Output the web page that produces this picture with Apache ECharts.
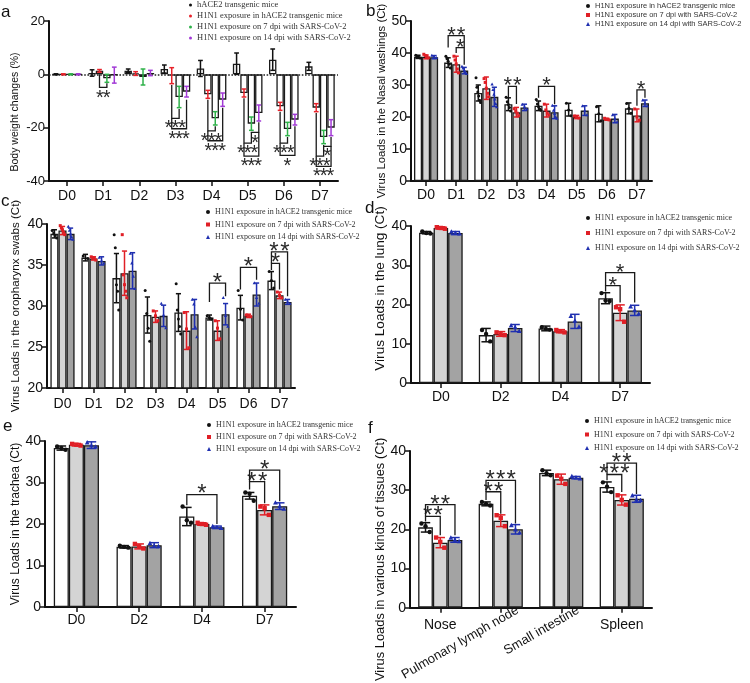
<!DOCTYPE html>
<html><head><meta charset="utf-8">
<script src="https://cdn.jsdelivr.net/npm/echarts@6/dist/echarts.min.js"></script>
<style>html,body{margin:0;padding:0;background:#fff}#c{width:750px;height:683px}</style>
</head><body><div id="c"></div>
<script>
// ---------- categories ----------
const daysAll = ['D0','D1','D2','D3','D4','D5','D6','D7'];
const daysSub = ['D0','D2','D4','D7'];
const tissues = ['Nose','Pulmonary lymph node','Small intestine','Spleen'];

// ---------- legend names ----------
const namesA = ['hACE2 transgenic mice','H1N1 exposure in hACE2 transgenic mice','H1N1 exposure on 7 dpi with SARS-CoV-2','H1N1 exposure on 14 dpi with SARS-CoV-2'];
const namesV = ['H1N1 exposure in hACE2 transgenic mice','H1N1 exposure on 7 dpi with SARS-CoV-2','H1N1 exposure on 14 dpi with SARS-CoV-2'];

// ---------- panel a: body weight change (%) ----------
const aHace2   = [0, 0.5, 1.3, 2.0, 2.2, 4.0, 5.5, 3.0];
const aHace2Sd = [0.2, 1.2, 0.7, 1.5, 3.0, 4.0, 4.0, 1.5];
const aH1n1    = [0, 1.3, 0.3, -0.5, -7.5, -7.0, -12.0, -12.5];
const aH1n1Sd  = [0.2, 0.5, 0.7, 3.0, 1.5, 1.5, 1.5, 1.5];
const a7dpi    = [0, -1.5, -1.0, -8.5, -16.5, -18.5, -20.5, -23.5];
const a7dpiSd  = [0.2, 1.5, 3.0, 4.0, 2.5, 2.5, 2.5, 2.5];
const a14dpi   = [0, -0.3, 0.5, -6.5, -9.5, -14.5, -17.0, -20.0];
const a14dpiSd = [0.2, 3.0, 1.0, 2.0, 2.5, 3.0, 2.0, 3.0];

// ---------- panel b: nasal washings (Ct) ----------
const bHace2   = [38.8, 37.0, 27.5, 24.0, 23.5, 22.3, 21.0, 22.7];
const bHace2Sd = [0.5, 1.5, 2.5, 2.0, 1.5, 2.0, 2.5, 1.7];
const b7dpi    = [38.8, 36.5, 29.0, 21.5, 22.0, 20.0, 19.3, 20.5];
const b7dpiSd  = [0.6, 2.5, 3.5, 1.5, 2.0, 0.5, 0.3, 2.0];
const b14dpi   = [38.7, 34.5, 26.3, 23.0, 21.5, 22.0, 19.5, 24.3];
const b14dpiSd = [0.5, 1.0, 3.0, 1.0, 2.0, 1.5, 1.3, 1.0];
const bHace2Pts = [[39.3,39.0,38.7,38.4],[39.0,38.2,37.4,36.5,35.3],[32.3,29.3,27.8,26.6,25.2,24.5],[26.2,24.8,23.9,23.0,21.9],
                   [25.5,24.1,23.2,22.6,22.1],[24.3,22.2,20.4],[23.2,21.0,18.8],[24.2,22.7,21.2]];
const b7dpiPts  = [[39.6,39.2,38.9,38.5],[39.0,37.8,36.6,35.0,33.8],[32.0,30.8,29.0,27.4,26.3],[22.6,21.8,21.2,20.4],
                   [24.0,22.2,21.2,20.6],[20.3,20.0,19.7],[19.6,19.3,19.1],[22.5,20.0,19.0]];
const b14dpiPts = [[39.2,38.9,38.5],[35.8,35.2,34.6,34.0,33.5],[30.2,28.5,27.0,25.5,24.1,23.1],[23.9,23.2,22.5],
                   [23.6,22.0,21.0,20.0,19.5],[23.4,22.0,20.6],[20.6,19.5,18.4],[25.2,24.3,23.4]];

// ---------- panel c: oropharynx swabs (Ct) ----------
const cHace2   = [38.8, 35.9, 33.4, 28.9, 29.2, 28.6, 29.8, 33.1];
const cHace2Sd = [0.5, 0.4, 3.0, 2.2, 2.3, 0.3, 1.5, 1.1];
const c7dpi    = [39.2, 35.8, 34.0, 28.7, 27.0, 27.0, 28.8, 31.3];
const c7dpiSd  = [0.5, 0.2, 2.7, 0.7, 2.3, 1.2, 0.2, 0.4];
const c14dpi   = [38.8, 35.5, 34.3, 28.8, 29.0, 29.0, 31.4, 30.5];
const c14dpiSd = [0.7, 0.5, 2.2, 1.3, 1.8, 1.3, 1.4, 0.3];
const cHace2Pts = [[39.2,38.9,38.6,38.3],[36.1,35.8],[38.7,37.1,32.6,31.8,29.5],[31.9,29.1,27.3,25.7],
                   [32.7,29.5,28.4,27.5,26.6],[28.8,28.6,28.4],[31.9,29.6,28.3],[34.2,33.1,32.2]];
const c7dpiPts  = [[39.8,39.5,39.3,39.0,38.7],[36.0,35.9,35.8,35.6],[38.7,33.8,32.6,31.8,31.0],[29.4,28.8,28.2],
                   [29.2,27.2,24.9],[28.2,27.3,26.0],[28.9,28.8,28.7],[31.7,31.3,31.0]];
const c14dpiPts = [[39.7,39.2,38.8,38.4,38.1],[35.9,35.5,35.2],[36.4,35.2,33.6,32.1],[30.3,28.9,27.3],
                   [30.8,30.2,27.4,26.2],[31.0,28.8,27.5],[32.8,31.0,30.3],[30.8,30.5,30.3]];

// ---------- panel d: lung (Ct) ----------
const dHace2   = [38.3, 12.2, 13.9, 21.6];
const dHace2Sd = [0.3, 1.7, 0.6, 1.4];
const d7dpi    = [39.5, 12.5, 13.2, 17.9];
const d7dpiSd  = [0.3, 0.6, 0.4, 2.0];
const d14dpi   = [38.2, 14.0, 15.7, 18.5];
const d14dpiSd = [0.4, 0.9, 1.8, 1.3];
const dHace2Pts = [[38.6,38.2,38.1],[13.5,12.5,10.6],[14.2,13.8,13.6],[22.9,21.0,20.9]];
const d7dpiPts  = [[39.7,39.5,39.3],[12.9,12.4,12.2],[13.5,13.2,12.9],[19.3,18.8,15.6]];
const d14dpiPts = [[38.5,38.2,38.0],[14.6,14.2,13.2],[17.0,15.8,14.3],[19.4,18.5,17.6]];

// ---------- panel e: trachea (Ct) ----------
const eHace2   = [38.3, 14.5, 21.8, 26.8];
const eHace2Sd = [0.5, 0.3, 2.2, 0.8];
const e7dpi    = [39.1, 14.6, 20.0, 23.4];
const e7dpiSd  = [0.3, 0.6, 0.3, 1.2];
const e14dpi   = [39.0, 14.9, 19.2, 24.3];
const e14dpiSd = [0.8, 0.6, 0.3, 0.8];
const eHace2Pts = [[38.7,38.3,37.9],[14.8,14.5,14.3],[24.2,20.9,20.3],[27.6,27.3,25.6]];
const e7dpiPts  = [[39.3,39.1,38.9],[15.2,14.6,14.1],[20.3,20.0,19.8],[24.2,23.8,22.2]];
const e14dpiPts = [[39.6,38.9,38.6],[15.3,14.7,14.6],[19.4,19.2,19.0],[25.1,24.2,23.6]];

// ---------- panel f: tissues (Ct) ----------
const fHace2   = [20.5, 26.5, 34.4, 30.8];
const fHace2Sd = [1.2, 0.5, 0.7, 1.3];
const f7dpi    = [16.6, 22.2, 32.8, 27.5];
const f7dpiSd  = [1.3, 1.5, 1.3, 1.3];
const f14dpi   = [17.3, 20.0, 33.2, 27.8];
const f14dpiSd = [0.6, 1.2, 0.3, 0.9];
const fHace2Pts = [[21.5,20.8,19.3],[27.0,26.5,26.1],[35.1,34.3,33.8],[32.0,30.9,29.5]];
const f7dpiPts  = [[17.9,16.8,15.3],[23.6,22.9,20.8],[33.7,32.9,31.6],[28.7,27.5,26.3]];
const f14dpiPts = [[17.8,17.3,16.9],[21.0,19.9,19.1],[33.5,33.2,32.9],[28.6,27.5,27.4]];

// ---------- significance brackets: [category, group1, group2, level, leg1 end, leg2 end, number of stars] ----------
const sigA = [
  [1,1,2,-4.9,0,-3.3,2],
  [3,1,2,-16.5,-4,-13,3],
  [3,1,3,-20.4,-16.5,-9.5,3],
  [4,1,2,-21.2,-9.5,-19.5,3],
  [4,1,3,-24.9,-21.2,-12.5,3],
  [5,2,3,-21.8,-21.5,-18,1],
  [5,1,2,-25.8,-9,-21.8,3],
  [5,1,3,-30.7,-25.8,-21.8,3],
  [6,1,2,-25.8,-14,-23.5,3],
  [6,1,3,-30.4,-25.8,-19.5,1],
  [7,2,3,-27,-26.5,-23.5,1],
  [7,1,2,-30.7,-14.5,-27,3],
  [7,1,3,-34.5,-30.7,-27,3]
];
const sigB = [
  [1,0,2,45.4,41.7,41.7,2],
  [1,1,2,41.7,40,36.3,1],
  [3,0,1,29.6,26.2,24.1,2],
  [4,0,2,29.6,26,24,1],
  [7,1,2,28.5,23.5,26,1]
];
const sigC = [
  [5,0,2,32.8,30.5,31.2,1],
  [6,0,2,34.7,32,33.2,1],
  [7,0,1,35.2,34.4,32,1],
  [7,0,2,36.6,35.2,31.2,2]
];
const sigD = [
  [3,0,1,24.8,23.3,20.5,1],
  [3,0,2,28.1,24.8,20.5,1]
];
const sigE = [
  [2,0,2,27.1,24.5,20,1],
  [3,0,1,30.2,28.3,25,2],
  [3,0,2,33,30.2,25.5,1]
];
const sigF = [
  [0,0,1,23.3,22,18.5,2],
  [0,0,2,26.3,23.3,18.5,2],
  [1,0,1,29.6,27.5,24,2],
  [1,0,2,32.5,29.6,21.5,3],
  [3,0,1,34,32.5,29.5,3],
  [3,0,2,36.9,34,29,2]
];

// ---------- styles ----------
const ERR_A = ['#111111','#e8232b','#2fb24a','#a23ad6'];
const ERR_V = ['#111111','#e01f26','#1f2fb0'];
const FILL_A = ['#ffffff','#ffffff','#ffffff','#ffffff'];
const FILL_V = ['#ffffff','#d4d4d4','#a3a3a3'];
const SANS = "'Liberation Sans', Arial, sans-serif";
const SERIF = "'Liberation Serif', 'Times New Roman', serif";

const panels = [
  {cats: daysAll, names: namesA, means:[aHace2,aH1n1,a7dpi,a14dpi], sds:[aHace2Sd,aH1n1Sd,a7dpiSd,a14dpiSd], sig:sigA, dir:-1, pts:null, ptR:0,
   grid:{left:49,top:21,width:289,height:160}, gap:0.18, y:{min:-40,max:20,interval:20}, fills:FILL_A, errs:ERR_A,
   yname:'Body weight changes (%)', nfs:10.5, ngap:28, npad:[0,22,0,0], tfs:13, xfs:14, xm:8, starFs:20, starSp:6.8,
   legend:{left:189, top:0, font:SERIF, fs:8.5, lh:10, gap:1, icons:['circle','circle','circle','circle'], size:3}},
  {cats: daysAll, names: namesV, means:[bHace2,b7dpi,b14dpi], sds:[bHace2Sd,b7dpiSd,b14dpiSd], sig:sigB, dir:1,
   pts:[bHace2Pts,b7dpiPts,b14dpiPts], ptR:1.5,
   grid:{left:411,top:21,width:241,height:160}, gap:0.2, y:{min:0,max:50,interval:10}, fills:FILL_V, errs:ERR_V,
   yname:'Virus Loads in the Nasal washings (Ct)', nfs:11.3, ngap:23, npad:[0,0,0,0], tfs:14, xfs:14, xm:7, starFs:22, starSp:9.5,
   legend:{left:586, top:1.5, font:SANS, fs:7.5, lh:9, gap:0, icons:['circle','rect','triangle'], size:4}},
  {cats: daysAll, names: namesV, means:[cHace2,c7dpi,c14dpi], sds:[cHace2Sd,c7dpiSd,c14dpiSd], sig:sigC, dir:1,
   pts:[cHace2Pts,c7dpiPts,c14dpiPts], ptR:1.5,
   grid:{left:47,top:224,width:248,height:164}, gap:0.22, y:{min:20,max:40,interval:5}, fills:FILL_V, errs:ERR_V,
   yname:'Virus Loads in the oropharynx swabs (Ct)', nfs:11.6, ngap:25, npad:[0,0,0,0], tfs:14, xfs:14, xm:9, starFs:24, starSp:11,
   legend:{left:206, top:207, font:SERIF, fs:8, lh:10, gap:2.5, icons:['circle','rect','triangle'], size:4}},
  {cats: daysSub, names: namesV, means:[dHace2,d7dpi,d14dpi], sds:[dHace2Sd,d7dpiSd,d14dpiSd], sig:sigD, dir:1,
   pts:[dHace2Pts,d7dpiPts,d14dpiPts], ptR:2.2,
   grid:{left:411,top:226,width:239,height:157}, gap:0.27, y:{min:0,max:40,interval:10}, fills:FILL_V, errs:ERR_V,
   yname:'Virus Loads in the lung (Ct)', nfs:13.6, ngap:20, npad:[0,0,0,32], tfs:14, xfs:14, xm:7, starFs:22, starSp:9,
   legend:{left:586, top:213, font:SERIF, fs:8, lh:10, gap:5, icons:['circle','rect','triangle'], size:4}},
  {cats: daysSub, names: namesV, means:[eHace2,e7dpi,e14dpi], sds:[eHace2Sd,e7dpiSd,e14dpiSd], sig:sigE, dir:1,
   pts:[eHace2Pts,e7dpiPts,e14dpiPts], ptR:2.2,
   grid:{left:45,top:441,width:251,height:166}, gap:0.28, y:{min:0,max:40,interval:10}, fills:FILL_V, errs:ERR_V,
   yname:'Virus Loads in the trachea (Ct)', nfs:12, ngap:23.5, npad:[0,0,0,0], tfs:14, xfs:14, xm:6, starFs:24, starSp:11,
   legend:{left:207, top:420, font:SERIF, fs:8, lh:10, gap:2, icons:['circle','rect','triangle'], size:4}},
  {cats: tissues, names: namesV, means:[fHace2,f7dpi,f14dpi], sds:[fHace2Sd,f7dpiSd,f14dpiSd], sig:sigF, dir:1,
   pts:[fHace2Pts,f7dpiPts,f14dpiPts], ptR:2.2,
   grid:{left:410,top:451,width:242,height:161}, gap:0.27, y:{min:0,max:40,interval:10}, fills:FILL_V, errs:ERR_V,
   yname:'Virus Loads in various kinds of tissues (Ct)', nfs:12.9, ngap:21.5, npad:[0,60,0,0], tfs:14, xfs:14, xm:10, starFs:24, starSp:10.5,
   legend:{left:585, top:416, font:SERIF, fs:8, lh:10, gap:3.5, icons:['circle','rect','triangle'], size:4}}
];

const axisLine = {show:true, onZero:false, lineStyle:{color:'#111', width:2}};
const axisTick = {show:true, length:5, lineStyle:{color:'#111', width:1.5}};

const grid = [], xAxis = [], yAxis = [], series = [], legend = [];

function offsetOf(api, n, gap, s) {
  const band = api.size([1, 0])[0];
  const bw = band * (1 - gap) / n;
  return {bw: bw, off: (s - (n - 1) / 2) * bw};
}

function marker(shape, x, y, r, color) {
  if (shape === 'rect') return {type:'rect', shape:{x:x - r, y:y - r, width:2 * r, height:2 * r}, style:{fill:color}};
  if (shape === 'triangle') return {type:'polygon', shape:{points:[[x, y - r * 1.2], [x - r * 1.1, y + r * 0.8], [x + r * 1.1, y + r * 0.8]]}, style:{fill:color}};
  return {type:'circle', shape:{cx:x, cy:y, r:r}, style:{fill:color}};
}

panels.forEach((p, gi) => {
  const n = p.means.length;
  grid.push(p.grid);
  const xi = xAxis.length;
  xAxis.push({
    type:'category', gridIndex:gi, data:p.cats, position:'bottom',
    axisLine:axisLine, axisTick:Object.assign({alignWithLabel:true}, axisTick),
    axisLabel:{color:'#111', fontSize:p.xfs, fontFamily:SANS, margin:p.xm, interval:0,
      formatter: gi === 5 ? (v => (v === 'Nose' || v === 'Spleen') ? v : '') : undefined}
  });
  yAxis.push({
    type:'value', gridIndex:gi, min:p.y.min, max:p.y.max, interval:p.y.interval,
    axisLine:axisLine, axisTick:axisTick, splitLine:{show:false},
    axisLabel:{color:'#111', fontSize:p.tfs, fontFamily:SANS, margin:4},
    name:p.yname, nameLocation:'middle', nameGap:p.ngap,
    nameTextStyle:{fontSize:p.nfs, fontFamily:SANS, color:'#111', padding:p.npad}
  });
  // bars
  p.means.forEach((m, s) => {
    const ser = {
      type:'bar', name:p.names[s], xAxisIndex:xi, yAxisIndex:gi, data:m,
      barGap:'0%', barCategoryGap:(p.gap * 100) + '%',
      itemStyle:{color:p.fills[s], borderColor:'#1a1a1a', borderWidth:1.3},
      z:2
    };
    if (gi === 0 && s === 0) {
      ser.markLine = {silent:true, symbol:['none','none'], label:{show:false},
        lineStyle:{type:'dotted', color:'#222', width:1.6}, data:[{yAxis:0}]};
    }
    series.push(ser);
  });
  // error bars
  const errData = [];
  p.means.forEach((m, s) => m.forEach((v, i) => errData.push([i, s, v, p.sds[s][i]])));
  series.push({
    type:'custom', xAxisIndex:xi, yAxisIndex:gi, data:errData, encode:{x:0, y:2}, z:5, clip:false,
    renderItem:(params, api) => {
      const cat = api.value(0), s = api.value(1), m = api.value(2), sd = api.value(3);
      const o = offsetOf(api, n, p.gap, s);
      const x = api.coord([cat, m])[0] + o.off;
      const yt = api.coord([cat, m + sd])[1], yb = api.coord([cat, m - sd])[1];
      const hw = o.bw * 0.32;
      const st = {stroke:p.errs[s], lineWidth:1.5};
      return {type:'group', children:[
        {type:'line', shape:{x1:x, y1:yt, x2:x, y2:yb}, style:st},
        {type:'line', shape:{x1:x - hw, y1:yt, x2:x + hw, y2:yt}, style:st},
        {type:'line', shape:{x1:x - hw, y1:yb, x2:x + hw, y2:yb}, style:st}
      ]};
    }
  });
  // individual points
  if (p.pts) {
    const ptData = [];
    p.pts.forEach((arr, s) => arr.forEach((vals, i) => vals.forEach((v, j) => ptData.push([i, s, j, vals.length, v]))));
    const shapes = ['circle', 'rect', 'triangle'];
    series.push({
      type:'custom', xAxisIndex:xi, yAxisIndex:gi, data:ptData, encode:{x:0, y:4}, z:6, clip:false,
      renderItem:(params, api) => {
        const cat = api.value(0), s = api.value(1), j = api.value(2), cnt = api.value(3), v = api.value(4);
        const o = offsetOf(api, n, p.gap, s);
        const c = api.coord([cat, v]);
        const spread = cnt > 1 ? (j / (cnt - 1) - 0.5) * 0.56 * o.bw : 0;
        return marker(shapes[s], c[0] + o.off + spread, c[1], p.ptR, p.errs[s]);
      }
    });
  }
  // significance brackets
  series.push({
    type:'custom', xAxisIndex:xi, yAxisIndex:gi, data:p.sig.map(d => [d[0], d[1], d[2], d[3], d[4], d[5], d[6]]),
    encode:{x:0, y:3}, z:7, clip:false,
    renderItem:(params, api) => {
      const d = p.sig[params.dataIndex];
      const o1 = offsetOf(api, n, p.gap, d[1]), o2 = offsetOf(api, n, p.gap, d[2]);
      const cx = api.coord([d[0], d[3]])[0];
      const x1 = cx + o1.off, x2 = cx + o2.off;
      const y = api.coord([d[0], d[3]])[1];
      const y1 = api.coord([d[0], d[4]])[1], y2 = api.coord([d[0], d[5]])[1];
      const F = p.starFs;
      const ty = p.dir > 0 ? y - 2.5 + 0.115 * F : y + 2.5 + 0.405 * F;
      const kids = [{type:'polyline', shape:{points:[[x1, y1], [x1, y], [x2, y], [x2, y2]]},
          style:{stroke:'#1a1a1a', lineWidth:1.3, fill:null}}];
      const k = d[6];
      for (let j = 0; j < k; j++) {
        kids.push({type:'text', style:{text:'*', x:(x1 + x2) / 2 + (j - (k - 1) / 2) * p.starSp, y:ty,
          align:'center', verticalAlign:'middle', textAlign:'center', textVerticalAlign:'middle',
          fontSize:F, fontFamily:SANS, fill:'#2a2a2a'}});
      }
      return {type:'group', children:kids};
    }
  });
  // legend
  const L = p.legend;
  legend.push({
    show:true, orient:'vertical', left:L.left, top:L.top, itemGap:L.gap, itemWidth:L.size, itemHeight:L.size,
    selectedMode:false, padding:0,
    textStyle:{fontFamily:L.font, fontSize:L.fs, color:'#333', lineHeight:L.lh},
    data:p.names.map((nm, s) => ({name:nm, icon:L.icons[s], itemStyle:{color:p.errs[s], borderWidth:0}}))
  });
});

// rotated tissue labels for panel f (own hidden grid, offset to sit like the original)
grid.push({left:427, top:451, width:242, height:161});
xAxis.push({
  type:'category', gridIndex:6, data:tissues, position:'bottom',
  axisLine:{show:false}, axisTick:{show:false},
  axisLabel:{color:'#111', fontSize:13, fontFamily:SANS, rotate:30, margin:7, interval:0,
    formatter: v => (v === 'Pulmonary lymph node' || v === 'Small intestine') ? v : ''}
});
yAxis.push({type:'value', gridIndex:6, show:false, min:0, max:40});

const letters = [['a',1,4],['b',366,3],['c',1,193],['d',365,200],['e',3,418],['f',368,420]];
const title = letters.map(l => ({text:l[0], left:l[1], top:l[2], padding:0,
  textStyle:{fontSize:17, fontWeight:'normal', fontFamily:SANS, color:'#111'}}));

const chart = echarts.init(document.getElementById('c'), null, {renderer:'canvas'});
chart.setOption({animation:false, backgroundColor:'#fff', title, grid, xAxis, yAxis, series, legend});
</script>
</body></html>
